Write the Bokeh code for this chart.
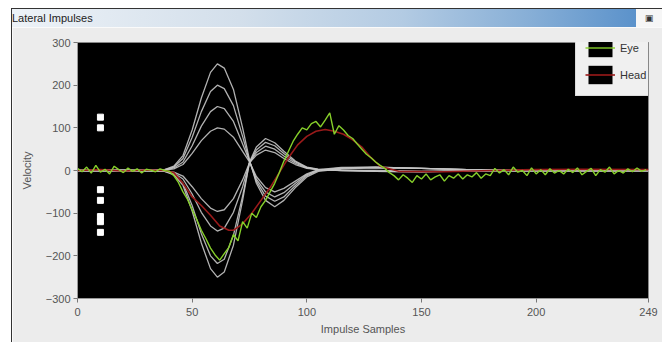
from bokeh.plotting import figure
from bokeh.models import Div, Legend, LegendItem, FixedTicker, ColumnDataSource
from bokeh.layouts import column
from bokeh.embed import file_html
from bokeh.resources import INLINE

# ---------------- data ----------------
title_text = "Lateral Impulses"
x_ticks = [0, 50, 100, 150, 200, 249]
y_ticks = [-300, -200, -100, 0, 100, 200, 300]

# Eye velocity (every 2nd sample)
eye_x = list(range(0, 250, 2))
eye_y = [
    5, -3, 8, -6, 12, -4, 3, -8, 10, 2,
    -5, 6, -2, 4, -6, 3, 1, -3, 4, 0,
    -2, -12, -28, -50, -68, -92, -115, -140, -160, -182,
    -198, -210, -195, -180, -150, -165, -120, -135, -100, -110,
    -85, -70, -50, -30, -5, 22, 45, 68, 85, 100,
    95, 110, 115, 102, 118, 135, 85, 105, 95, 82,
    75, 62, 50, 38, 30, 20, 12, 5, -5, -12,
    -22, -10, -18, -28, -12, -20, -8, -22, -15, -10,
    -25, -12, -18, -8, -20, -10, -15, -5, -18, -8,
    -12, 5, -6, 2, -10, 8, -4, 0, -12, 6,
    -8, 2, -10, 4, -6, 0, -8, 3, -5, 6,
    -10, -2, 5, -12, 2, -4, 8, -8, 0, -6,
    4, -3, 6, -2, 2,
]

# Head velocity
head_x = [0, 10, 20, 30, 38, 42, 46, 50, 54, 58, 62, 66, 68, 72, 76, 80, 84, 88,
          92, 96, 100, 104, 108, 112, 116, 120, 124, 128, 132, 140, 160, 180, 200, 220, 249]
head_y = [0, 2, -1, 1, 0, -5, -30, -62, -82, -105, -130, -140, -140, -125, -100, -70, -40, -5,
          30, 60, 80, 92, 96, 92, 85, 72, 55, 30, 10, -2, -3, 0, 2, 3, 2]

# Normative (grey) impulse curves
grey_x = [0, 30, 38, 42, 46, 50, 54, 58, 61, 64, 68, 72, 75, 78, 82, 86, 90, 95,
          100, 105, 115, 130, 150, 170, 190, 249]
grey_p1 = [0, 0, 2, 10, 35, 95, 170, 230, 250, 240, 190, 100, 25, -30, -70, -85, -70, -40,
           -15, -2, 4, 6, 5, 2, 0, 0]
grey_p2 = [0, 0, 2, 8, 28, 78, 138, 185, 200, 192, 152, 80, 22, -25, -60, -72, -62, -35,
           -12, 0, 5, 7, 5, 2, 0, 0]
grey_p3 = [0, 0, 1, 6, 20, 58, 104, 138, 150, 145, 115, 62, 22, -20, -50, -62, -52, -30,
           -10, 1, 6, 8, 5, 2, 0, 0]
grey_p4 = [0, 0, 1, 4, 14, 40, 70, 92, 100, 97, 78, 45, 20, -14, -40, -50, -42, -25,
           -8, 2, 7, 8, 5, 2, 0, 0]
grey_n1 = [0, 0, -2, -10, -35, -95, -170, -230, -250, -238, -175, -70, 20, 55, 75, 65, 45, 22,
           8, 3, 0, -2, -3, -1, 0, 0]
grey_n2 = [0, 0, -2, -8, -30, -82, -148, -200, -218, -208, -152, -60, 18, 48, 66, 58, 40, 20,
           7, 2, 0, -2, -3, -1, 0, 0]
grey_n3 = [0, 0, -1, -6, -20, -55, -98, -130, -142, -135, -98, -38, 18, 42, 57, 50, 34, 17,
           6, 2, 1, -1, -2, -1, 0, 0]
grey_n4 = [0, 0, -1, -4, -13, -38, -66, -88, -96, -92, -66, -22, 18, 36, 48, 42, 28, 14,
           5, 2, 1, 0, -2, -1, 0, 0]
grey_curves = [grey_p1, grey_p2, grey_p3, grey_p4, grey_n1, grey_n2, grey_n3, grey_n4]

# white marker squares
marker_x = [10, 10, 10, 10, 10, 10, 10]
marker_y = [125, 100, -45, -70, -108, -120, -145]

FONT = "Liberation Sans"

# ---------------- title bar ----------------
title_div = Div(
    text=(
        '<div style="position:relative;width:650px;height:19px;box-sizing:border-box;'
        'border-top:1px solid #333;'
        'background:linear-gradient(to right,#edf2f7 0%,#d3dfeb 35%,#b3cbe3 60%,#86aed6 80%,#5b92cb 96%,#f6f6f6 96%);'
        f'font-family:\'{FONT}\';font-size:11px;color:#222;line-height:18px;white-space:nowrap;overflow:hidden;">'
        f'{title_text}'
        '<span style="position:absolute;right:8px;top:0;font-size:9px;color:#333;">&#9635;</span>'
        '</div>'
    ),
    width=650, height=19, margin=0,
)

# ---------------- figure ----------------
p = figure(
    width=650, height=315,
    x_range=(0, 249), y_range=(-300, 300),
    output_backend="svg", toolbar_location=None,
    min_border_left=65, min_border_right=14, min_border_top=15, min_border_bottom=44,
    background_fill_color="black", border_fill_color="#ececec",
    outline_line_color="#888888",
    margin=0,
)
p.xgrid.visible = False
p.ygrid.visible = False

for g in grey_curves:
    p.line(grey_x, g, line_color="#c4c4c4", line_width=1.3, line_alpha=0.9)

head_r = p.line(head_x, head_y, line_color="#9a1a1a", line_width=1.6)
eye_r = p.line(eye_x, eye_y, line_color="#86cf2a", line_width=1.4)

p.scatter(marker_x, marker_y, marker="square", size=6, fill_color="white", line_color="white")

# axes
for ax in (p.xaxis, p.yaxis):
    ax.axis_line_color = "#999999"
    ax.major_tick_line_color = "#777777"
    ax.major_tick_out = 4
    ax.major_tick_in = 0
    ax.minor_tick_line_color = None
    ax.major_label_text_font = FONT
    ax.major_label_text_font_size = "11px"
    ax.major_label_text_color = "#555555"
    ax.axis_label_text_font = FONT
    ax.axis_label_text_font_size = "11px"
    ax.axis_label_text_font_style = "normal"
    ax.axis_label_text_color = "#555555"

p.xaxis.ticker = FixedTicker(ticks=x_ticks)
p.yaxis.ticker = FixedTicker(ticks=y_ticks)
p.xaxis.axis_label = "Impulse Samples"
p.yaxis.axis_label = "Velocity"
p.xaxis.major_label_standoff = 5
p.xaxis.axis_label_standoff = 4
p.yaxis.major_label_standoff = 3
p.yaxis.axis_label_standoff = 10

# legend with black swatches (zero-size helper rects, only the legend shows them)
box_src = ColumnDataSource(data=dict(x=[0], y=[0]))
box_eye = p.rect("x", "y", width=0, height=0, source=box_src,
                 fill_color="black", line_color="#444444", line_alpha=0)
box_head = p.rect("x", "y", width=0, height=0, source=box_src,
                  fill_color="black", line_color="#444444", line_alpha=0)
legend = Legend(
    items=[LegendItem(label="Eye", renderers=[box_eye, eye_r]),
           LegendItem(label="Head", renderers=[box_head, head_r])],
    location=(498, 202),
    background_fill_color="#f0f0f0", background_fill_alpha=1.0,
    border_line_color="#c8c8c8",
    glyph_width=30, glyph_height=23, label_height=23, label_width=45,
    label_standoff=5, padding=9, spacing=4, margin=0,
    label_text_font=FONT, label_text_font_size="11px", label_text_color="#333333",
)
p.add_layout(legend)

layout = column(title_div, p, margin=(8, 0, 0, 11),
                styles={"border-left": "1px solid #333333"})

open("out.html", "w").write(file_html(layout, INLINE))
